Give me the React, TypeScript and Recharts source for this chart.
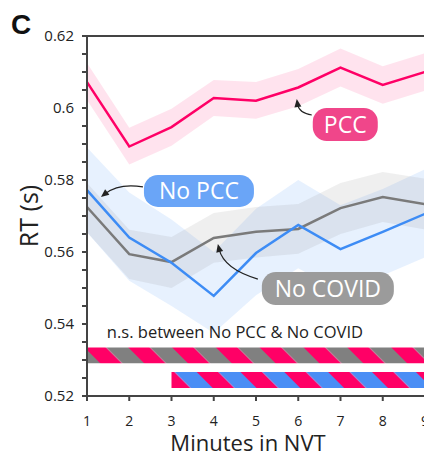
import { ComposedChart, Line, Area, XAxis, YAxis, ReferenceArea, ReferenceLine, ReferenceDot } from 'recharts'

// RT per minute in NVT, with shaded error bands
const minutes = [1, 2, 3, 4, 5, 6, 7, 8, 9]
const pcc = [0.6072, 0.5893, 0.5947, 0.6028, 0.602, 0.6057, 0.6112, 0.6064, 0.61]
const pccLow = [0.6022, 0.5843, 0.5895, 0.5978, 0.597, 0.6005, 0.606, 0.6012, 0.6048]
const pccHigh = [0.6125, 0.5945, 0.5998, 0.6078, 0.6072, 0.6108, 0.6165, 0.6116, 0.6152]
const noPcc = [0.5772, 0.564, 0.557, 0.5478, 0.5597, 0.5675, 0.5608, 0.5656, 0.5706]
const noPccLow = [0.5655, 0.552, 0.545, 0.5375, 0.548, 0.5555, 0.549, 0.5535, 0.5585]
const noPccHigh = [0.589, 0.5765, 0.569, 0.56, 0.572, 0.58, 0.573, 0.5775, 0.583]
const noCovid = [0.5725, 0.5594, 0.5572, 0.5639, 0.5656, 0.5664, 0.5722, 0.5753, 0.5733]
const noCovidLow = [0.5655, 0.5525, 0.55, 0.557, 0.5585, 0.5595, 0.565, 0.5683, 0.5663]
const noCovidHigh = [0.5792, 0.5662, 0.5642, 0.5708, 0.5725, 0.5733, 0.5792, 0.5822, 0.5804]

// significance bars: first minute where each comparison differs
const sigPccVsNoCovidFrom = 1
const sigPccVsNoPccFrom = 3

const xTicks = [1, 2, 3, 4, 5, 6, 7, 8, 9]
const yTicks = [
  0.52, 0.525, 0.53, 0.535, 0.54, 0.545, 0.55, 0.555, 0.56, 0.565, 0.57,
  0.575, 0.58, 0.585, 0.59, 0.595, 0.6, 0.605, 0.61, 0.615, 0.62,
]
const yLabels = [0.52, 0.54, 0.56, 0.58, 0.6, 0.62]

const data = minutes.map((m, i) => ({
  minute: m,
  pcc: pcc[i],
  pccBand: [pccLow[i], pccHigh[i]],
  noPcc: noPcc[i],
  noPccBand: [noPccLow[i], noPccHigh[i]],
  noCovid: noCovid[i],
  noCovidBand: [noCovidLow[i], noCovidHigh[i]],
}))

const FONT = '"Open Sans", sans-serif'
const PINK = '#ff0066'
const BLUE = '#3d8cf5'
const GREY = '#7a7a7a'

// label box + curved arrow; (cx, cy) is the arrow tip
const makeCallout = (text: string, color: string, box: number[], start: number[], ctrl: number[]) =>
  (props: any) => {
    const { cx, cy } = props
    const dx = -ctrl[0]
    const dy = -ctrl[1]
    const len = Math.hypot(dx, dy)
    const ux = dx / len
    const uy = dy / len
    const hl = 8
    const hw = 3.5
    const head = [
      [cx, cy],
      [cx - ux * hl - uy * hw, cy - uy * hl + ux * hw],
      [cx - ux * hl + uy * hw, cy - uy * hl - ux * hw],
    ]
    return (
      <g>
        <path
          d={`M${cx + start[0]},${cy + start[1]} Q${cx + ctrl[0]},${cy + ctrl[1]} ${cx - ux * 5},${cy - uy * 5}`}
          fill="none"
          stroke="#222"
          strokeWidth={1.2}
        />
        <polygon points={head.map((p) => p.join(',')).join(' ')} fill="#222" />
        <rect x={cx + box[0]} y={cy + box[1]} width={box[2]} height={box[3]} rx={14} fill={color} />
        <text
          x={cx + box[0] + box[2] / 2}
          y={cy + box[1] + box[3] / 2 + 8}
          textAnchor="middle"
          fill="#fff"
          fontSize={23}
          fontFamily={FONT}
        >
          {text}
        </text>
      </g>
    )
  }

const noteShape = (props: any) => (
  <text x={props.cx} y={props.cy} fill="#222" fontSize={16.5} fontFamily={FONT}>
    n.s. between No PCC &amp; No COVID
  </text>
)

const fmtY = (v: number) => (yLabels.some((l) => Math.abs(l - v) < 1e-6) ? String(+v.toFixed(2)) : '')

const App = () => {
  return (
    <div style={{ position: 'relative', width: 424, height: 458, overflow: 'hidden', background: '#fff' }}>
      <style>{'body{margin:0}'}</style>
      <div
        style={{
          position: 'absolute',
          left: 11,
          top: 11,
          fontFamily: '"Liberation Sans", Arial, sans-serif',
          fontWeight: 'bold',
          fontSize: 28,
          lineHeight: '28px',
          color: '#111',
          zIndex: 2,
        }}
      >
        C
      </div>
      <ComposedChart width={440} height={458} data={data} margin={{ top: 36, right: 15, bottom: 0, left: 0 }}>
        <defs>
          <pattern id="hatchGrey" patternUnits="userSpaceOnUse" width={31} height={31} patternTransform="rotate(-45)">
            <rect width={15.5} height={31} fill={PINK} />
            <rect x={15.5} width={15.5} height={31} fill="#808080" />
          </pattern>
          <pattern id="hatchBlue" patternUnits="userSpaceOnUse" width={31} height={31} patternTransform="rotate(-45)">
            <rect width={15.5} height={31} fill={PINK} />
            <rect x={15.5} width={15.5} height={31} fill="#4a8ef5" />
          </pattern>
        </defs>
        <XAxis
          dataKey="minute"
          type="number"
          domain={[1, 9]}
          ticks={xTicks}
          height={62}
          tickSize={5}
          tickMargin={15}
          axisLine={{ stroke: '#444', strokeWidth: 2 }}
          tickLine={{ stroke: '#444', strokeWidth: 2 }}
          tick={{ fill: '#222', fontSize: 14, fontFamily: FONT }}
          label={{ value: 'Minutes in NVT', position: 'insideBottom', offset: 7, dx: -8, fill: '#222', fontSize: 22, fontFamily: FONT }}
        />
        <YAxis
          type="number"
          domain={[0.52, 0.62]}
          ticks={yTicks}
          interval={0}
          width={87}
          tickSize={5}
          tickMargin={8}
          tickFormatter={fmtY}
          axisLine={{ stroke: '#444', strokeWidth: 2 }}
          tickLine={{ stroke: '#444', strokeWidth: 2 }}
          tick={{ fill: '#222', fontSize: 15, fontFamily: FONT }}
          label={{ value: 'RT (s)', angle: -90, position: 'insideLeft', offset: 29, style: { textAnchor: 'middle' }, fill: '#222', fontSize: 25, fontFamily: FONT }}
        />
        <ReferenceLine y={0.62} stroke="#444" strokeWidth={2} />

        <Area dataKey="pccBand" type="linear" stroke="none" fill={PINK} fillOpacity={0.11} isAnimationActive={false} activeDot={false} />
        <Area dataKey="noPccBand" type="linear" stroke="none" fill={BLUE} fillOpacity={0.12} isAnimationActive={false} activeDot={false} />
        <Area dataKey="noCovidBand" type="linear" stroke="none" fill="#808080" fillOpacity={0.13} isAnimationActive={false} activeDot={false} />

        <Line dataKey="pcc" type="linear" stroke={PINK} strokeWidth={2.5} dot={false} isAnimationActive={false} />
        <Line dataKey="noCovid" type="linear" stroke={GREY} strokeWidth={2.5} dot={false} isAnimationActive={false} />
        <Line dataKey="noPcc" type="linear" stroke={BLUE} strokeWidth={2.5} dot={false} isAnimationActive={false} />

        <ReferenceArea x1={sigPccVsNoCovidFrom} x2={9} y1={0.5291} y2={0.5335} fill="url(#hatchGrey)" fillOpacity={1} stroke="none" />
        <ReferenceArea x1={sigPccVsNoPccFrom} x2={9} y1={0.5222} y2={0.5267} fill="url(#hatchBlue)" fillOpacity={1} stroke="none" />

        <ReferenceDot x={1.47} y={0.5361} r={0} shape={noteShape} />
        <ReferenceDot x={5.965} y={0.6025} r={0} shape={makeCallout('PCC', '#f0468a', [16, 9, 65, 33], [15, 16], [2, 14])} />
        <ReferenceDot x={1.33} y={0.5753} r={0} shape={makeCallout('No PCC', '#6aa5f7', [43, -22, 110, 32], [42, -10], [18, -14])} />
        <ReferenceDot x={4.097} y={0.5622} r={0} shape={makeCallout('No COVID', '#9b9b9b', [44, 28, 132, 33], [40, 35], [6, 25])} />
      </ComposedChart>
    </div>
  )
}

export default App
